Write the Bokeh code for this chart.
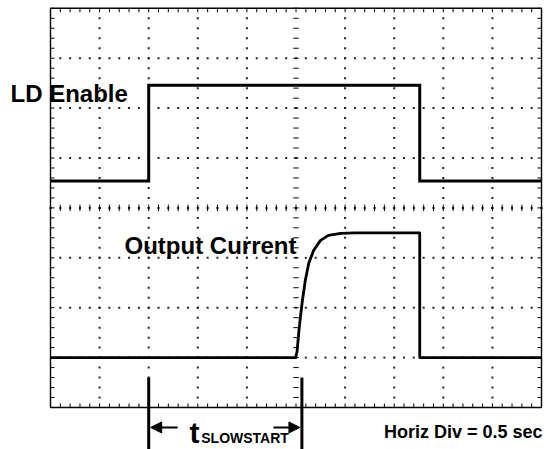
import numpy as np
from bokeh.plotting import figure
from bokeh.models import Label, Arrow, NormalHead, Range1d
from bokeh.embed import file_html
from bokeh.resources import INLINE

# ---- data, in scope divisions (horizontal: 0.5 s / div) ----
n_hdiv = 10
n_vdiv = 8
n_minor = 5
ld_x = [0.0, 2.0, 2.0, 7.52, 7.52, 10.0]
ld_y = [4.54, 4.54, 6.46, 6.46, 4.54, 4.54]
out_x = [0.0, 4.99, 5.02, 5.06, 5.09, 5.13, 5.19, 5.26, 5.36, 5.50, 5.66, 5.91, 6.20, 7.52, 7.52, 10.0]
out_y = [1.0, 1.0, 1.11, 1.54, 1.81, 2.14, 2.55, 2.89, 3.15, 3.35, 3.45, 3.49, 3.50, 3.50, 1.0, 1.0]
marker_x = [2.0, 5.12]
labels = ["LD Enable", "Output Current", "Horiz Div = 0.5 sec", "t", "SLOWSTART"]

# ---- figure: data area spans the whole canvas ----
W, H = 546, 449
p = figure(width=W, height=H, output_backend="svg", toolbar_location=None,
           x_axis_type=None, y_axis_type=None, min_border=0,
           x_range=Range1d(-1.0183, 10.1018), y_range=Range1d(-0.8417, 8.1563))
p.outline_line_color = None
p.grid.visible = False
p.background_fill_color = "white"
p.border_fill_color = "white"

minor_x = np.arange(0, n_hdiv * n_minor + 1) / n_minor
minor_y = np.arange(0, n_vdiv * n_minor + 1) / n_minor
cx, cy = n_hdiv / 2, n_vdiv / 2

# dotted graticule
dots_x, dots_y = [], []
for gx in range(1, n_hdiv):
    if gx == cx:
        continue
    for yy in minor_y[1:-1]:
        dots_x.append(gx); dots_y.append(yy)
for gy in range(1, n_vdiv):
    if gy == cy:
        continue
    for xx in minor_x[1:-1]:
        dots_x.append(xx); dots_y.append(gy)
p.scatter(dots_x, dots_y, marker="square", size=2, color="#222222", line_width=0)

# central cross tick marks
p.segment(x0=minor_x, y0=cy - 0.065, x1=minor_x, y1=cy + 0.065, line_color="black", line_width=1)
p.scatter(minor_x, [cy] * len(minor_x), marker="square", size=2, color="black", line_width=0)
p.segment(x0=cx - 0.055, y0=minor_y, x1=cx + 0.055, y1=minor_y, line_color="black", line_width=1)

# frame edge ticks
tl = 0.08
p.segment(x0=minor_x, y0=0, x1=minor_x, y1=tl, line_color="black", line_width=1)
p.segment(x0=minor_x, y0=n_vdiv, x1=minor_x, y1=n_vdiv - tl, line_color="black", line_width=1)
p.segment(x0=0, y0=minor_y, x1=tl, y1=minor_y, line_color="black", line_width=1)
p.segment(x0=n_hdiv, y0=minor_y, x1=n_hdiv - tl, y1=minor_y, line_color="black", line_width=1)

# frame
p.quad(left=0, right=n_hdiv, bottom=0, top=n_vdiv, fill_color=None,
       line_color="black", line_width=1.4)

# traces
p.line(ld_x, ld_y, line_color="black", line_width=3, line_join="miter")
p.line(out_x, out_y, line_color="black", line_width=2.8, line_join="round")

# t_SLOWSTART markers
p.segment(x0=marker_x, y0=0.6, x1=marker_x, y1=-0.86, line_color="black", line_width=3)
p.add_layout(Arrow(end=NormalHead(size=11, fill_color="black", line_color="black"),
                   x_start=marker_x[0] + 0.59, y_start=-0.40,
                   x_end=marker_x[0] + 0.04, y_end=-0.40,
                   line_color="black", line_width=2))
p.add_layout(Arrow(end=NormalHead(size=11, fill_color="black", line_color="black"),
                   x_start=marker_x[1] - 0.58, y_start=-0.40,
                   x_end=marker_x[1] - 0.04, y_end=-0.40,
                   line_color="black", line_width=2))

font = "Liberation Sans"
def lab(x, y, text, size, align="left"):
    p.add_layout(Label(x=x, y=y, text=text, text_font=font, text_font_style="bold",
                       text_font_size=size, text_color="black", text_align=align,
                       text_baseline="alphabetic"))

lab(-0.815, 6.30, labels[0], "24px")
lab(1.507, 3.246, labels[1], "24px")
lab(10.02, -0.501, labels[2], "18px", align="right")
lab(2.83, -0.50, labels[3], "30px")
lab(3.07, -0.62, labels[4], "14px")

open("out.html", "w").write(file_html(p, INLINE))
